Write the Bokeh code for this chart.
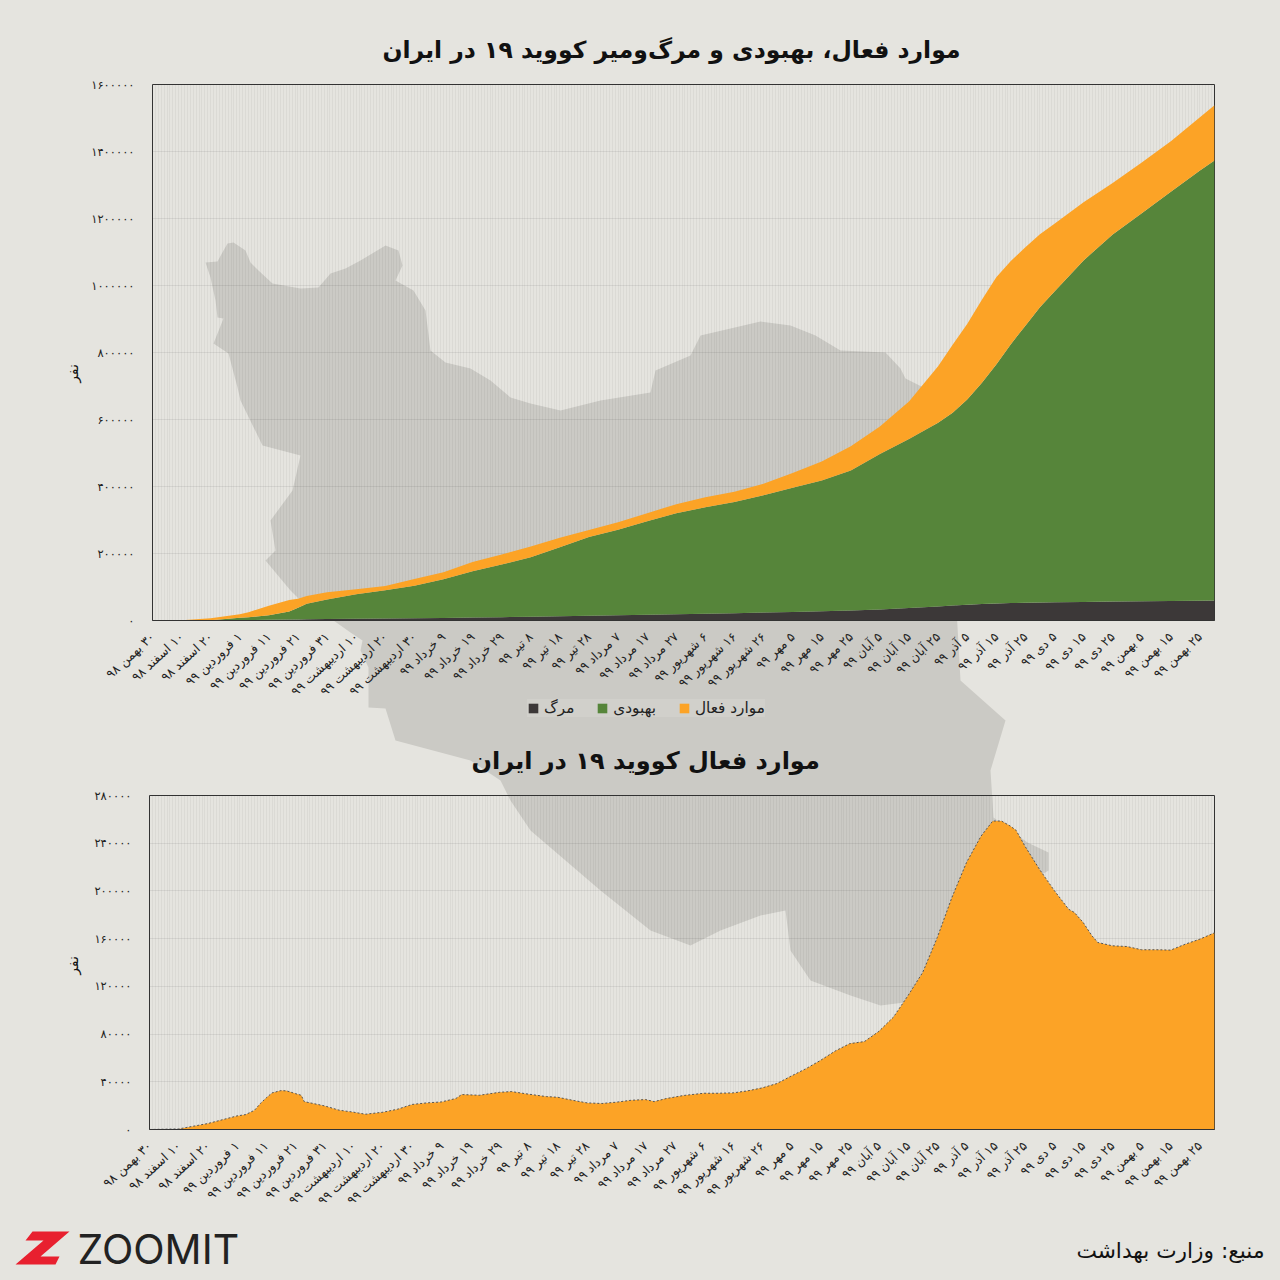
from math import pi
from bokeh.plotting import figure
from bokeh.models import ColumnDataSource, FixedTicker, Legend, LegendItem, Range1d
from bokeh.core.properties import value
from bokeh.embed import file_html
from bokeh.resources import INLINE

BG = "#e5e4df"
MAP = "#cbcac5"
ORANGE = "#fca326"
GREEN = "#56853a"
DARK = "#3c3838"
FONT = "DejaVu Sans"
W = H = 1280

title_top = "موارد فعال، بهبودی و مرگ‌ومیر کووید ۱۹ در ایران"
title_bottom = "موارد فعال کووید ۱۹ در ایران"
source_text = "منبع: وزارت بهداشت"
y_title = "نفر"
legend_labels = ["مرگ", "بهبودی", "موارد فعال"]

tick_labels = [
    "۳۰ بهمن ۹۸", "۱۰ اسفند ۹۸", "۲۰ اسفند ۹۸", "۱ فروردین ۹۹", "۱۱ فروردین ۹۹", "۲۱ فروردین ۹۹",
    "۳۱ فروردین ۹۹", "۱۰ اردیبهشت ۹۹", "۲۰ اردیبهشت ۹۹", "۳۰ اردیبهشت ۹۹", "۹ خرداد ۹۹", "۱۹ خرداد ۹۹",
    "۲۹ خرداد ۹۹", "۸ تیر ۹۹", "۱۸ تیر ۹۹", "۲۸ تیر ۹۹", "۷ مرداد ۹۹", "۱۷ مرداد ۹۹", "۲۷ مرداد ۹۹",
    "۶ شهریور ۹۹", "۱۶ شهریور ۹۹", "۲۶ شهریور ۹۹", "۵ مهر ۹۹", "۱۵ مهر ۹۹", "۲۵ مهر ۹۹", "۵ آبان ۹۹",
    "۱۵ آبان ۹۹", "۲۵ آبان ۹۹", "۵ آذر ۹۹", "۱۵ آذر ۹۹", "۲۵ آذر ۹۹", "۵ دی ۹۹", "۱۵ دی ۹۹", "۲۵ دی ۹۹",
    "۵ بهمن ۹۹", "۱۵ بهمن ۹۹", "۲۵ بهمن ۹۹",
]
y_ticks_top = [0, 200000, 400000, 600000, 800000, 1000000, 1200000, 1400000, 1600000]
y_labels_top = ["۰", "۲۰۰۰۰۰", "۴۰۰۰۰۰", "۶۰۰۰۰۰", "۸۰۰۰۰۰", "۱۰۰۰۰۰۰", "۱۲۰۰۰۰۰", "۱۴۰۰۰۰۰", "۱۶۰۰۰۰۰"]
y_ticks_bottom = [0, 40000, 80000, 120000, 160000, 200000, 240000, 280000]
y_labels_bottom = ["۰", "۴۰۰۰۰", "۸۰۰۰۰", "۱۲۰۰۰۰", "۱۶۰۰۰۰", "۲۰۰۰۰۰", "۲۴۰۰۰۰", "۲۸۰۰۰۰"]

days_top = [0, 10, 20, 30, 33, 40, 47, 50, 53, 60, 70, 80, 90, 100, 110, 120, 130, 140, 150, 160, 170, 180,
            190, 200, 210, 220, 230, 240, 250, 260, 270, 275, 280, 285, 290, 295, 300, 305, 310, 320, 330, 340, 350,
            360, 365]
deaths = [0, 20, 400, 700, 850, 2000, 3000, 3300, 3600, 4700, 5400, 6100, 6800, 7600, 8600, 10000, 11500,
          13000, 14500, 16000, 17500, 19000, 20500, 22000, 23800, 25500, 27700, 30000, 33000, 37000, 42000, 44500,
          47000, 49000, 51000, 52000, 53000, 53800, 54500, 55500, 56500, 57500, 58000, 59000, 59700]
recovered = [0, 0, 600, 7300, 9000, 14000, 24000, 34700, 46400, 58300, 72600, 83900, 97200, 115400, 138400,
             157000, 177500, 206000, 234500, 254600, 279000, 301000, 317500, 332000, 350200, 370500, 390300,
             418000, 464000, 505000, 548000, 575500, 613000, 660000, 713000, 773000, 827000, 881200, 927500,
             1019500, 1095500, 1158500, 1222000, 1284000, 1313300]
active_top = [0, 400, 6000, 11000, 15000, 28000, 34000, 27000, 23000, 21000, 15000, 13000, 20000, 21000, 28000,
              30000, 32000, 28000, 21000, 23000, 24000, 27000, 30000, 30700, 34000, 44000, 57000, 72000, 82000,
              112000, 169000, 203000, 225000, 248000, 261000, 248000, 234000, 218000, 202000, 173500, 154000,
              151000, 150500, 159600, 164900]

days_bottom = [0, 10, 20, 30, 33, 36, 38, 40, 42, 45, 47, 50, 52, 53, 60, 65, 70, 74, 80, 85, 90, 95, 100, 105,
               107, 113, 120, 124, 130, 136, 140, 145, 150, 155, 160, 165, 170, 173, 177, 183, 190, 195, 200,
               205, 210, 215, 220, 225, 230, 235, 240, 245, 250, 255, 260, 265, 270, 275, 280, 285, 289, 292,
               295, 297, 300, 305, 310, 315, 317, 320, 323, 325, 330, 335, 340, 345, 350, 355, 360, 365]
active_bottom = [0, 500, 5000, 11400, 12500, 16200, 21800, 26500, 30700, 32600, 32400, 30100, 28700, 23400,
                 19800, 16200, 14500, 12800, 14500, 17000, 21000, 22300, 23100, 26000, 29300, 28700, 31200,
                 31800, 29600, 27600, 27000, 24500, 22300, 21800, 22900, 24500, 25100, 23400, 25900, 28500,
                 30400, 30400, 30700, 32400, 34900, 38500, 44900, 51000, 58000, 65800, 72000, 73700, 82300,
                 94300, 112400, 131700, 161000, 194500, 223800, 246000, 258600, 258600, 254400, 250800,
                 237700, 218200, 200600, 184700, 181900, 173500, 162400, 156800, 154000, 153400, 150700,
                 150700, 150400, 155400, 159600, 164900]

# Backdrop decoration, in page pixels
map_x = [205, 217, 223, 227, 233, 245, 250, 258, 272, 300, 318, 330, 345, 360, 385, 398, 402, 395, 413, 425, 430,
         445, 470, 490, 510, 530, 560, 600, 650, 655, 690, 700, 730, 760, 790, 815, 840, 885, 900, 905, 925, 950,
         960, 1005, 990, 993, 1027, 1048, 1048, 1000, 920, 880, 850, 810, 790, 785, 760, 720, 690, 650, 600, 530,
         510, 500, 470, 395, 385, 368, 368, 360, 362, 350, 333, 310, 290, 265, 275, 270, 292, 300, 262, 240, 237,
         228, 213, 223, 217, 215, 210]
map_y = [262, 261, 250, 243, 242, 250, 262, 270, 283, 288, 287, 273, 268, 260, 245, 250, 265, 280, 290, 310, 350,
         362, 368, 380, 397, 403, 410, 400, 392, 370, 355, 335, 328, 321, 325, 335, 350, 352, 368, 378, 388, 500,
         680, 720, 770, 817, 842, 852, 870, 900, 1000, 1005, 995, 980, 950, 910, 915, 930, 945, 930, 890, 830,
         800, 780, 760, 740, 708, 707, 667, 650, 640, 632, 620, 610, 590, 560, 550, 520, 490, 455, 445, 400, 387,
         353, 343, 318, 317, 300, 277]
logo_x = [32, 69, 40, 59, 55, 15, 43, 25]
logo_y = [1231, 1231, 1256, 1256, 1264, 1264, 1240, 1240]

FILL = {"position": "absolute", "top": "0", "left": "0"}


def rtl(s):
    return "\u200f" + s


def tick_map(ticks, labels):
    return {t: l for t, l in zip(ticks, labels)}


x_ticks = list(range(0, 361, 10))

bg = figure(width=W, height=H, x_range=Range1d(0, W), y_range=Range1d(H, 0), x_axis_type=None, y_axis_type=None,
            toolbar_location=None, output_backend="svg", min_border=0, outline_line_color=None,
            background_fill_color=BG, border_fill_color=BG, styles=FILL)
bg.grid.visible = False
bg.patch(map_x, map_y, fill_color=MAP, line_color=None)
bg.patch(logo_x, logo_y, fill_color="#e8202f", line_color=None)
bg.text(x=[77], y=[1248], text=["ZOOMIT"], text_font=value("Inter"), text_font_size="41px", text_color="#222222",
        text_baseline="middle", text_align="left")
bg.text(x=[1264], y=[1250], text=[source_text], text_font=value(FONT), text_font_size="21.7px", text_color="#111111",
        text_baseline="middle", text_align="right")
bg.text(x=[72, 72], y=[373, 965], text=[y_title, y_title], angle=pi / 2, text_font=value(FONT), text_font_size="14px",
        text_color="#111111", text_baseline="middle", text_align="center")


def make_chart(y_end, left, top, bottom, title, title_offset, title_size, yt, yl):
    p = figure(width=W, height=H, x_range=Range1d(0, 365), y_range=Range1d(0, y_end), toolbar_location=None,
               output_backend="svg", min_border_left=left, min_border_right=W - 1214, min_border_top=top,
               min_border_bottom=bottom, background_fill_color=None, border_fill_color=None,
               outline_line_color="#333333", styles=FILL)
    p.title.text = title
    p.title.text_font = FONT
    p.title.text_font_size = title_size
    p.title.text_font_style = "bold"
    p.title.text_color = "#111111"
    p.title.align = "left"
    p.title.offset = title_offset
    p.title.standoff = 42
    p.xaxis.ticker = FixedTicker(ticks=x_ticks)
    p.xaxis.major_label_overrides = tick_map(x_ticks, [rtl(t) for t in tick_labels])
    p.xaxis.major_label_orientation = 0.75
    p.xaxis.major_label_text_font = FONT
    p.xaxis.major_label_text_font_size = "12.5px"
    p.xaxis.major_label_text_color = "#222222"
    p.xaxis.major_label_standoff = 8
    p.xaxis.major_tick_line_color = None
    p.xaxis.minor_tick_line_color = None
    p.xaxis.axis_line_color = "#333333"
    p.yaxis.ticker = FixedTicker(ticks=yt)
    p.yaxis.major_label_overrides = tick_map(yt, yl)
    p.yaxis.major_label_text_font = FONT
    p.yaxis.major_label_text_font_size = "11.5px"
    p.yaxis.major_label_text_color = "#222222"
    p.yaxis.major_label_standoff = 12
    p.yaxis.major_tick_line_color = None
    p.yaxis.minor_tick_line_color = None
    p.yaxis.axis_line_color = None
    p.xgrid.ticker = FixedTicker(ticks=list(range(0, 366)))
    p.xgrid.grid_line_color = "#000000"
    p.xgrid.grid_line_alpha = 0.045
    p.ygrid.grid_line_color = "#000000"
    p.ygrid.grid_line_alpha = 0.07
    return p


p1 = make_chart(1600000, 152, 84, H - 620, title_top, 230, "23.5px", y_ticks_top, y_labels_top)
src1 = ColumnDataSource(dict(day=days_top, deaths=deaths, recovered=recovered, active=active_top))
stack = p1.varea_stack(["deaths", "recovered", "active"], x="day", source=src1, color=[DARK, GREEN, ORANGE])
legend = Legend(items=[LegendItem(label=l, renderers=[r]) for l, r in zip(legend_labels, stack)],
                orientation="horizontal", location=(375, 768), label_text_font=FONT, label_text_font_size="15.3px",
                label_text_color="#222222", glyph_width=12, glyph_height=12, spacing=22, label_standoff=5,
                border_line_color=None, background_fill_color="#e5e4df", background_fill_alpha=0.25, margin=0,
                padding=14)
p1.add_layout(legend, "below")

p2 = make_chart(280000, 149, 795, H - 1129, title_bottom, 322, "24px", y_ticks_bottom, y_labels_bottom)
src2 = ColumnDataSource(dict(day=days_bottom, active=active_bottom))
p2.varea(x="day", y1=0, y2="active", source=src2, color=ORANGE)
p2.line(x="day", y="active", source=src2, line_color="#555555", line_width=1, line_dash="2 2")

html = file_html([bg, p1, p2], INLINE)
html = html.replace("</head>", "<style>html,body{margin:0;background:%s;overflow:hidden}</style></head>" % BG, 1)
open("out.html", "w").write(html)
